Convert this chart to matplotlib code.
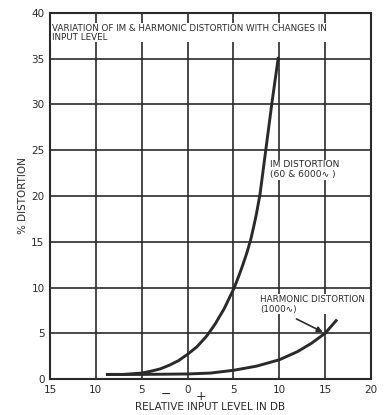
import matplotlib
matplotlib.use("Agg")
import matplotlib.pyplot as plt

plt.rcParams['font.family'] = ['Liberation Sans Narrow', 'DejaVu Sans']

# Data
im_db = [-8.9, -7, -5, -4, -3, -2, -1, 0, 1, 2, 2.3, 3, 4, 5.1, 5.6, 6, 6.5, 6.9, 7.2, 7.5, 7.9, 8.2, 8.55, 9.2, 9.9]
im_pct = [0.5, 0.5, 0.65, 0.85, 1.1, 1.5, 2.0, 2.7, 3.5, 4.6, 5.0, 6.0, 7.7, 10.0, 11.3, 12.4, 13.9, 15.3, 16.6, 18.0, 20.2, 22.5, 25.2, 30.2, 35.2]

harm_db = [-8.9, -5, 0, 2.5, 5, 7.5, 10, 12, 13.5, 15, 16.3]
harm_pct = [0.5, 0.5, 0.55, 0.65, 0.95, 1.4, 2.1, 3.0, 3.9, 5.0, 6.5]

x_ticks = [-15, -10, -5, 0, 5, 10, 15, 20]
x_tick_labels = ["15", "10", "5", "0", "5", "10", "15", "20"]
y_ticks = [0, 5, 10, 15, 20, 25, 30, 35, 40]
y_tick_labels = ["0", "5", "10", "15", "20", "25", "30", "35", "40"]

title_text = "VARIATION OF IM & HARMONIC DISTORTION WITH CHANGES IN\nINPUT LEVEL"
im_label = "IM DISTORTION\n(60 & 6000\u223F )"
harm_label = "HARMONIC DISTORTION\n(1000\u223F)"
x_label = "RELATIVE INPUT LEVEL IN DB"
y_label = "% DISTORTION"

ink = "#2a2a2a"

fig = plt.figure(figsize=(3.89, 4.15), dpi=100)
fig.patch.set_facecolor("white")
ax = fig.add_axes([50/389, 1-379/415, (371-50)/389, (379-13)/415])

ax.set_xlim(-15, 20)
ax.set_ylim(0, 40)
ax.set_xticks(x_ticks)
ax.set_xticklabels(x_tick_labels)
ax.set_yticks(y_ticks)
ax.set_yticklabels(y_tick_labels)
ax.tick_params(length=0, labelsize=7.5, colors=ink, pad=4)
ax.grid(True, color=ink, linewidth=1.2)
ax.set_axisbelow(True)
for s in ax.spines.values():
    s.set_color(ink)
    s.set_linewidth(1.5)

ax.plot(im_db, im_pct, color=ink, linewidth=2.1, solid_capstyle='butt',
        solid_joinstyle='round', zorder=3)
ax.plot(harm_db, harm_pct, color=ink, linewidth=2.1, solid_capstyle='butt',
        solid_joinstyle='round', zorder=3)

ax.text(-14.8, 38.8, title_text, fontsize=6.3, color=ink, va='top', ha='left',
        linespacing=0.95, bbox=dict(facecolor='white', edgecolor='none', pad=0.5))
ax.text(9.0, 23.9, im_label, fontsize=6.6, color=ink, va='top', ha='left',
        linespacing=1.1, bbox=dict(facecolor='white', edgecolor='none', pad=0.5))
ax.text(7.9, 9.2, harm_label, fontsize=6.3, color=ink, va='top', ha='left',
        linespacing=1.1, bbox=dict(facecolor='white', edgecolor='none', pad=0.5))
ax.annotate("", xy=(15, 5.0), xytext=(11.6, 6.7),
            arrowprops=dict(arrowstyle='-|>', color=ink, lw=1.2, mutation_scale=8))

ax.text(-2.4, -1.7, "\u2212", fontsize=9, color=ink, ha='center', va='center', clip_on=False)
ax.text(1.5, -1.9, "+", fontsize=9, color=ink, ha='center', va='center', clip_on=False)

ax.set_xlabel(x_label, fontsize=7.5, color=ink, labelpad=5)
ax.set_ylabel(y_label, fontsize=7.5, color=ink, labelpad=2)

fig.savefig("out.png", dpi=100, facecolor="white")
